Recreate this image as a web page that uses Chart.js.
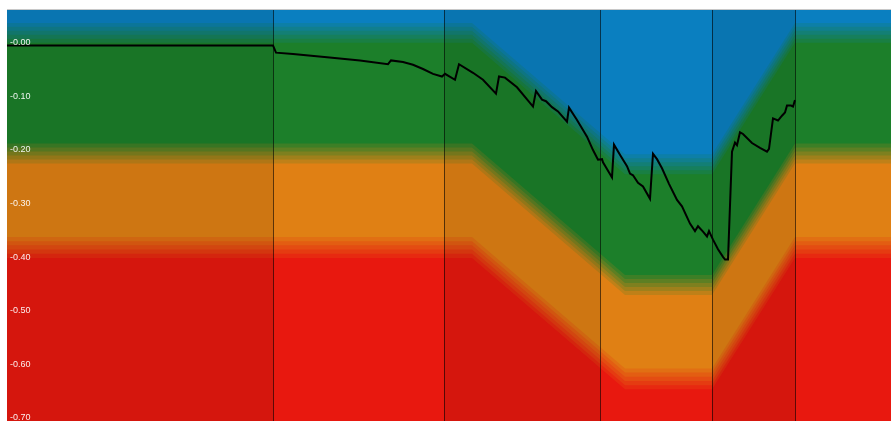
<!DOCTYPE html>
<html><head><meta charset="utf-8">
<script src="https://cdn.jsdelivr.net/npm/chart.js@4.4.1/dist/chart.umd.min.js"></script>
<style>html,body{margin:0;padding:0;background:#fff;overflow:hidden;} #wrap{width:891px;height:421px;position:relative;}</style>
</head><body><div id="wrap"><canvas id="c" width="891" height="421"></canvas></div>
<script>
// ---- data ----
const lineDays = [0, 266, 269, 286, 320, 353, 381, 384, 396, 406, 416, 426, 435, 438, 448, 452, 466, 476, 489, 492, 498, 510, 526, 529, 535, 539, 545, 551, 560, 562, 570, 580, 586, 591, 595, 596, 605, 607, 614, 620, 623, 626, 631, 636, 643, 646, 650, 655, 662, 670, 675, 683, 688, 691, 696, 700, 702, 706, 711, 716, 718, 721, 725, 728, 730, 733, 736, 745, 753, 760, 762, 766, 771, 775, 778, 780, 784, 786, 788];
const lineValues = [0, 0, -0.0135, -0.016, -0.022, -0.028, -0.035, -0.028, -0.031, -0.036, -0.044, -0.053, -0.058, -0.053, -0.064, -0.035, -0.051, -0.064, -0.090, -0.058, -0.060, -0.078, -0.114, -0.085, -0.101, -0.104, -0.115, -0.123, -0.142, -0.116, -0.139, -0.170, -0.195, -0.213, -0.212, -0.218, -0.246, -0.185, -0.207, -0.225, -0.239, -0.242, -0.256, -0.263, -0.286, -0.202, -0.212, -0.229, -0.258, -0.288, -0.300, -0.332, -0.346, -0.337, -0.347, -0.356, -0.346, -0.362, -0.380, -0.394, -0.399, -0.399, -0.198, -0.181, -0.186, -0.162, -0.165, -0.182, -0.191, -0.198, -0.193, -0.136, -0.140, -0.131, -0.125, -0.112, -0.112, -0.114, -0.102];
const sectionDays = [266, 437, 593, 705, 788];
const bandDays = [0, 465, 618, 705, 788, 884];
const bandShift = [0, 0, -0.245, -0.245, 0, 0];
const zoneUpper = [0.042, -0.183, -0.357];
const zoneLower = [0.005, -0.220, -0.396];
const zoneColors = ['#0a7fc0', '#1c7f2a', '#e08014', '#e8180f'];
const tickValues = [0, -0.1, -0.2, -0.3, -0.4, -0.5, -0.6, -0.7];
const tickLabels = ['-0.00', '-0.10', '-0.20', '-0.30', '-0.40', '-0.50', '-0.60', '-0.70'];

// ---- build ----
const STEPS = 5;
function rgb(h){ h = h.replace('#',''); return [0,2,4].map(i => parseInt(h.substr(i,2),16)); }
function mix(a, b, t){ const A = rgb(a), B = rgb(b); return 'rgb(' + A.map((v,i) => Math.round(v + (B[i]-v)*t)).join(',') + ')'; }

const datasets = [];
let ord = 1000;
function band(offset, color, flat){
  return { data: bandDays.map((d,i) => ({x: d, y: flat ? offset : offset + bandShift[i]})),
    fill: 'start', backgroundColor: color, borderColor: 'rgba(0,0,0,0)', borderWidth: 0,
    pointRadius: 0, pointHoverRadius: 0, tension: 0, order: ord-- };
}
datasets.push(band(1, zoneColors[0], true));
for (let t = 0; t < 3; t++) {
  for (let s = 0; s < STEPS; s++) {
    const off = zoneUpper[t] - (zoneUpper[t] - zoneLower[t]) * s / STEPS;
    datasets.push(band(off, mix(zoneColors[t], zoneColors[t+1], (s+1)/(STEPS+1))));
  }
  datasets.push(band(zoneLower[t], zoneColors[t+1]));
}
const lineIndex = datasets.length;
datasets.push({ data: lineDays.map((d,i) => ({x: d, y: lineValues[i]})), fill: false,
  borderColor: '#000', borderWidth: 2, pointRadius: 0, pointHoverRadius: 0, tension: 0, order: 0 });

const decor = {
  id: 'decor',
  beforeDatasetDraw(chart, args) {
    if (args.index !== lineIndex) return;
    const {ctx, chartArea: a, scales: {x}} = chart;
    ctx.save();
    ctx.beginPath(); ctx.rect(a.left, a.top, a.right - a.left, a.bottom - a.top); ctx.clip();
    const edges = [x.min, ...sectionDays, x.max];
    ctx.fillStyle = 'rgba(0,0,0,0.08)';
    for (let i = 0; i < edges.length - 1; i += 2) {
      const x0 = Math.round(x.getPixelForValue(edges[i])), x1 = Math.round(x.getPixelForValue(edges[i+1]));
      ctx.fillRect(x0, a.top, x1 - x0, a.bottom - a.top);
    }
    ctx.strokeStyle = 'rgba(0,0,0,0.6)'; ctx.lineWidth = 1;
    sectionDays.forEach(d => {
      const px = Math.round(x.getPixelForValue(d)) + 0.5;
      ctx.beginPath(); ctx.moveTo(px, a.top); ctx.lineTo(px, a.bottom); ctx.stroke();
    });
    ctx.restore();
    ctx.save();
    ctx.strokeStyle = '#c8c8c8'; ctx.lineWidth = 1;
    ctx.beginPath(); ctx.moveTo(a.left, a.top - 0.5); ctx.lineTo(a.right, a.top - 0.5); ctx.stroke();
    ctx.restore();
  }
};

new Chart(document.getElementById('c'), {
  type: 'line',
  data: { datasets },
  plugins: [decor],
  options: {
    responsive: false, animation: false, maintainAspectRatio: false,
    layout: { padding: { left: 7, top: 10, right: 0, bottom: 0 } },
    plugins: { legend: { display: false }, tooltip: { enabled: false } },
    scales: {
      x: { type: 'linear', min: 0, max: 884, display: false },
      y: { type: 'linear', min: -0.70, max: 0.066,
        grid: { display: false, drawTicks: false }, border: { display: false },
        afterBuildTicks: s => { s.ticks = tickValues.map(v => ({ value: v })); },
        afterFit: s => { s.width = 0; s.paddingTop = 0; s.paddingBottom = 0; s.paddingLeft = 0; s.paddingRight = 0; },
        ticks: { mirror: true, padding: 3, labelOffset: -3, z: 1,
          color: 'rgba(255,255,255,0.92)', font: { family: 'Liberation Sans, Arial, sans-serif', size: 9 },
          callback: (v, i) => tickLabels[i] } }
    }
  }
});
</script>
</body></html>
